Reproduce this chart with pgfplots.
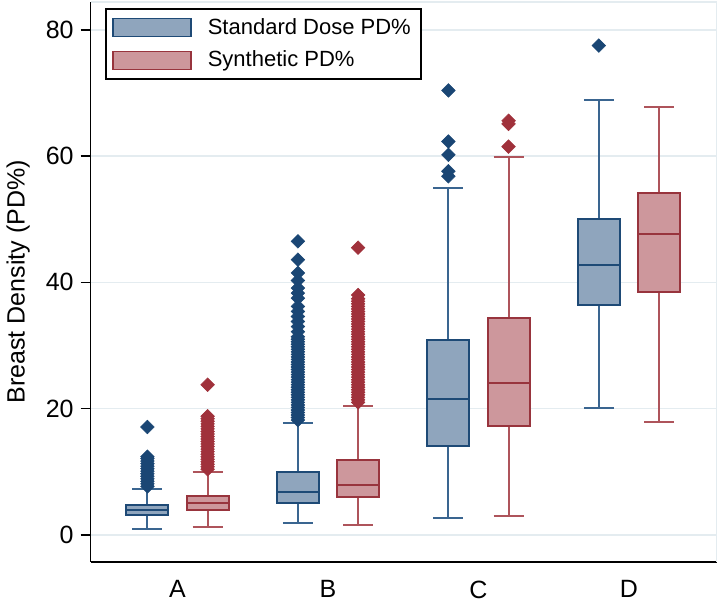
\documentclass[border=0pt]{standalone}
\usepackage{pgfplots}
\pgfplotsset{compat=1.18}
\usepgfplotslibrary{statistics}
\usepackage{fontspec}
\setmainfont{Liberation Sans}
\definecolor{bdark}{HTML}{1E4A76}
\definecolor{bwhisk}{HTML}{3A6590}
\definecolor{bfill}{HTML}{8FA5BD}
\definecolor{bmark}{HTML}{1A4674}
\definecolor{rdark}{HTML}{98343D}
\definecolor{rwhisk}{HTML}{AE545B}
\definecolor{rfill}{HTML}{CD979C}
\definecolor{rmark}{HTML}{A0313B}
\definecolor{gridc}{HTML}{E4ECF0}
\pgfplotsset{
 bluebox/.style={draw=bdark,
   boxplot/every box/.style={draw=bdark, fill=bfill, line width=1pt},
   boxplot/every whisker/.style={draw=bwhisk, line width=1pt},
   boxplot/every median/.style={draw=bdark, line width=1pt},
   mark=square*, mark size=2.4pt, mark options={rotate=45, draw=bmark, fill=bmark, line width=0.3pt}},
 redbox/.style={draw=rdark,
   boxplot/every box/.style={draw=rdark, fill=rfill, line width=1pt},
   boxplot/every whisker/.style={draw=rwhisk, line width=1pt},
   boxplot/every median/.style={draw=rdark, line width=1pt},
   mark=square*, mark size=2.4pt, mark options={rotate=45, draw=rmark, fill=rmark, line width=0.3pt}},
}
\begin{document}
\begin{tikzpicture}
\path[use as bounding box] (-45.35pt,-20.15pt) rectangle (314.65pt,280.85pt);
\begin{axis}[
  scale only axis, width=313pt, height=279.85pt,
  at={(0,0)}, anchor=south west,
  xmin=0.423, xmax=4.583, ymin=-4.23, ymax=84.4,
  boxplot/draw direction=y,
  axis x line*=bottom, axis y line*=left,
  axis line style={black, line width=0.8pt},
  xtick={1,2,3,4}, xticklabels={A,B,C,D},
  x tick style={draw=none},
  xticklabel style={yshift=-1pt},
  ytick={0,20,40,60,80},
  tick align=outside, major tick length=5pt,
  y tick style={black, line width=0.8pt},
  ymajorgrids, grid style={gridc, line width=0.8pt},
  /pgf/number format/assume math mode=true,
  tick label style={font=\fontsize{12.5}{14}\selectfont},
  ylabel={Breast Density (PD\%)},
  ylabel style={font=\fontsize{12.5}{15}\selectfont, at={(axis description cs:-0.116,0.5)}, anchor=center},
  legend style={at={(0.023,0.989)}, anchor=north west, draw=black, line width=0.9pt,
    font=\fontsize{11}{13}\selectfont, inner xsep=3pt, inner ysep=2.5pt, row sep=3pt,
    nodes={inner sep=2pt}, /tikz/every odd column/.append style={column sep=6pt}},
  legend cell align=left,
  clip=false,
]
\draw[gridc, line width=0.8pt] (rel axis cs:0,1) -- (rel axis cs:1,1) -- (rel axis cs:1,0);
\addlegendimage{legend image code/.code={\draw[draw=bdark, fill=bfill, line width=0.9pt] (0pt,-4.5pt) rectangle (39pt,4.5pt);}}
\addlegendentry{Standard Dose PD\%}
\addlegendimage{legend image code/.code={\draw[draw=rdark, fill=rfill, line width=0.9pt] (0pt,-4.5pt) rectangle (39pt,4.5pt);}}
\addlegendentry{Synthetic PD\%}
% A
\addplot[forget plot, bluebox, boxplot prepared={draw position=0.8, lower whisker=0.95, lower quartile=3.17, median=3.96, upper quartile=4.75, upper whisker=7.29, box extend=0.28, whisker extend=0.2}]
 table[row sep=\\, y index=0]{7.7\\8.1\\8.5\\8.9\\9.3\\9.7\\10.1\\10.5\\10.9\\11.3\\11.7\\12.1\\12.4\\17.1\\};
\addplot[forget plot, redbox, boxplot prepared={draw position=1.2, lower whisker=1.27, lower quartile=3.96, median=5.07, upper quartile=6.18, upper whisker=9.98, box extend=0.28, whisker extend=0.2}]
 table[row sep=\\, y index=0]{10.4\\10.8\\11.2\\11.6\\12.0\\12.4\\12.8\\13.2\\13.6\\14.0\\14.4\\14.8\\15.2\\15.6\\16.0\\16.4\\16.8\\17.2\\17.6\\18.0\\18.4\\18.8\\23.8\\};
% B
\addplot[forget plot, bluebox, boxplot prepared={draw position=1.8, lower whisker=1.95, lower quartile=5.02, median=6.86, upper quartile=10.03, upper whisker=17.7, box extend=0.28, whisker extend=0.2}]
 table[row sep=\\, y index=0]{18.2\\18.6\\19.0\\19.4\\19.8\\20.2\\20.6\\21.0\\21.4\\21.8\\22.2\\22.6\\23.0\\23.4\\23.8\\24.2\\24.6\\25.0\\25.4\\25.8\\26.2\\26.6\\27.0\\27.4\\27.8\\28.2\\28.6\\29.0\\29.4\\29.8\\30.2\\30.6\\31.0\\31.4\\32.2\\33.0\\33.8\\34.6\\35.4\\36.2\\37.5\\38.3\\39.1\\40.3\\41.5\\43.6\\46.5\\};
\addplot[forget plot, redbox, boxplot prepared={draw position=2.2, lower whisker=1.58, lower quartile=6.07, median=7.92, upper quartile=11.88, upper whisker=20.5, box extend=0.28, whisker extend=0.2}]
 table[row sep=\\, y index=0]{21.0\\21.4\\21.8\\22.2\\22.6\\23.0\\23.4\\23.8\\24.2\\24.6\\25.0\\25.4\\25.8\\26.2\\26.6\\27.0\\27.4\\27.8\\28.2\\28.6\\29.0\\29.4\\29.8\\30.2\\30.6\\31.0\\31.4\\31.8\\32.2\\32.6\\33.0\\33.4\\33.8\\34.2\\34.6\\35.0\\35.4\\35.8\\36.2\\36.6\\37.0\\37.4\\38.0\\45.5\\};
% C
\addplot[forget plot, bluebox, boxplot prepared={draw position=2.8, lower whisker=2.65, lower quartile=14.1, median=21.5, upper quartile=30.9, upper whisker=54.9, box extend=0.28, whisker extend=0.2}]
 table[row sep=\\, y index=0]{56.8\\57.6\\60.2\\62.3\\70.4\\};
\addplot[forget plot, redbox, boxplot prepared={draw position=3.2, lower whisker=3.0, lower quartile=17.3, median=24.0, upper quartile=34.3, upper whisker=59.8, box extend=0.28, whisker extend=0.2}]
 table[row sep=\\, y index=0]{61.5\\65.1\\65.6\\};
% D
\addplot[forget plot, bluebox, boxplot prepared={draw position=3.8, lower whisker=20.07, lower quartile=36.4, median=42.7, upper quartile=50.0, upper whisker=68.9, box extend=0.28, whisker extend=0.2}]
 table[row sep=\\, y index=0]{77.5\\};
\addplot[forget plot, redbox, boxplot prepared={draw position=4.2, lower whisker=17.95, lower quartile=38.5, median=47.6, upper quartile=54.2, upper whisker=67.8, box extend=0.28, whisker extend=0.2}]
 coordinates {};
\end{axis}
\end{tikzpicture}
\end{document}
